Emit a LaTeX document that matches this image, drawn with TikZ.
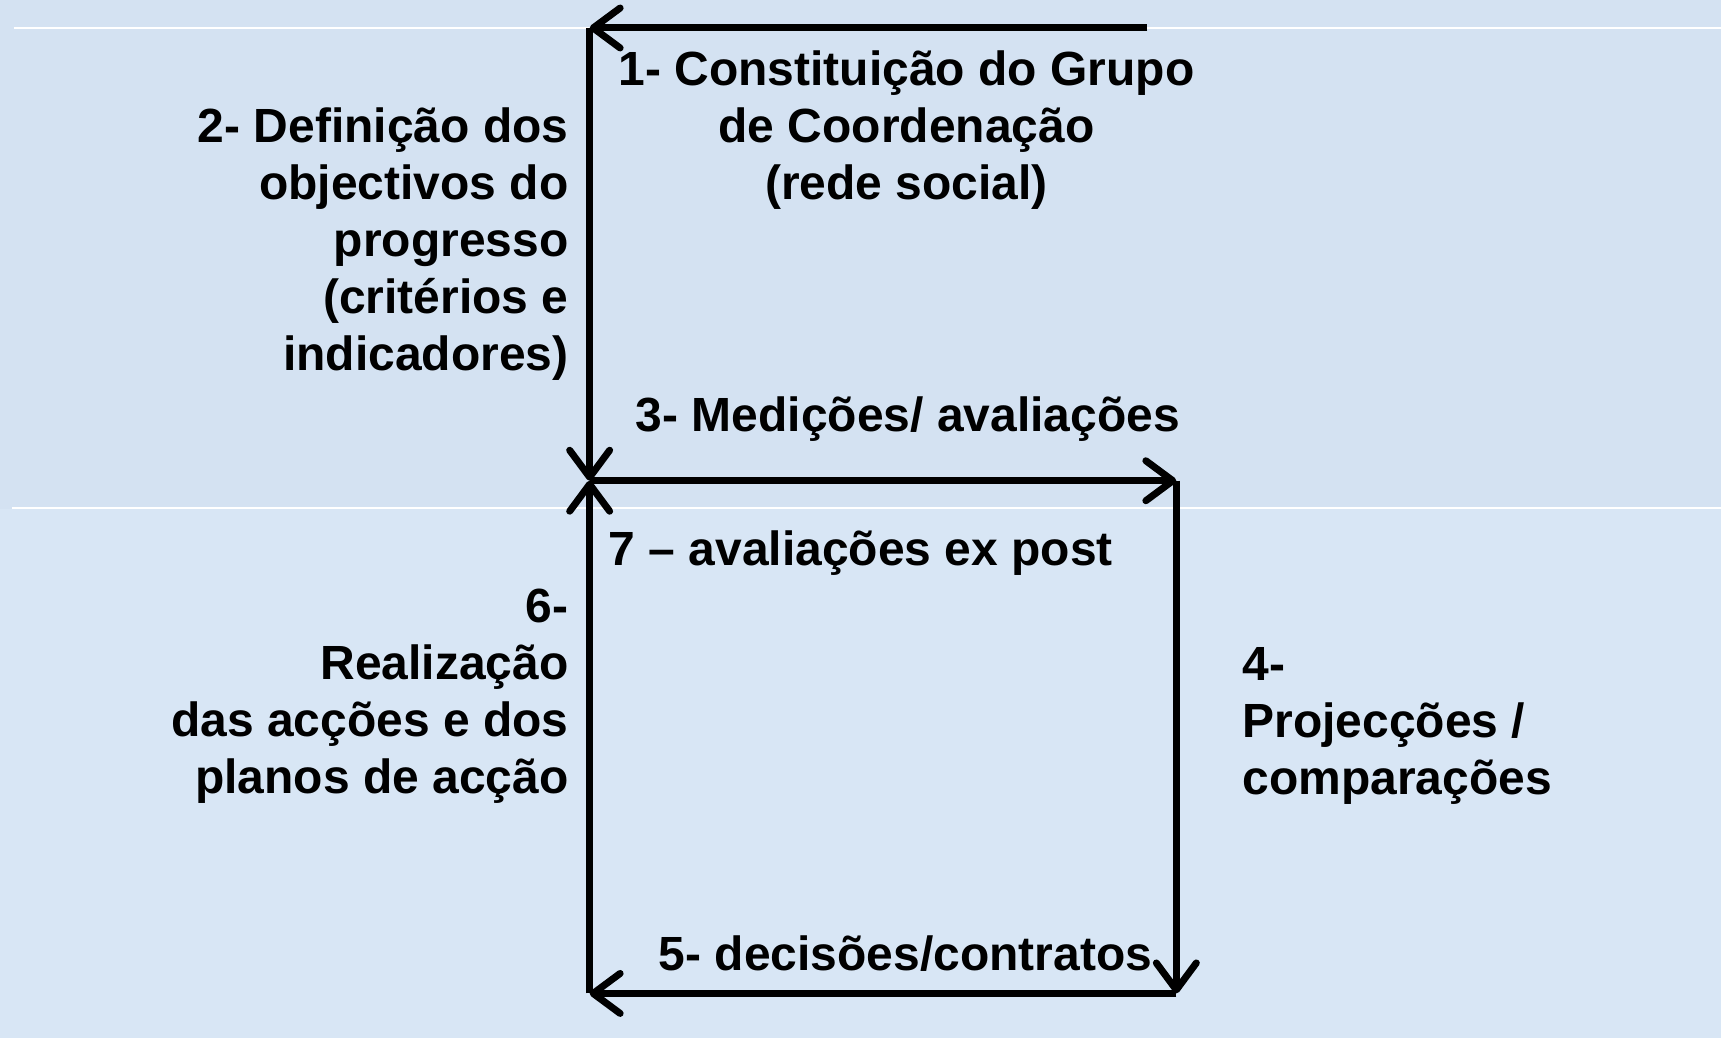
\documentclass[tikz,border=0pt]{standalone}
\usepackage{fontspec}
\setmainfont{Liberation Sans}
\usetikzlibrary{arrows.meta}
\definecolor{bgblue}{RGB}{212,226,242}
\definecolor{bgblue2}{RGB}{216,230,245}
\tikzset{
  lbl/.style={inner sep=0pt, font=\fontsize{48}{57}\selectfont\bfseries},
  flow/.style={line width=7pt, -{Straight Barb[length=27pt,width=40pt,round]}},
  rule/.style={white, line width=2pt}
}
\begin{document}
\begin{tikzpicture}[x=1pt,y=-1pt]
\fill[bgblue] (0,0) rectangle (1722,1039);
\fill[bgblue2] (0,509) rectangle (1722,1039);
\draw[rule] (14,28) -- (1722,28);
\draw[rule] (12,508) -- (1722,508);
% corners
\coordinate (TR) at (1148,28);
\coordinate (TL) at (590,28);
\coordinate (ML) at (590,481);
\coordinate (MR) at (1177,481);
\coordinate (BR) at (1177,994);
\coordinate (BL) at (590,994);
% connectors
\draw[flow] (TR) -- (TL);
\draw[flow] (TL) -- (ML);
\draw[flow] (ML) -- (MR);
\draw[flow] (MR) -- (BR);
\draw[flow] (BR) -- (BL);
\draw[flow] (BL) -- (ML);
% labels
\node[lbl, align=center] (n1) at (907,130) {1- Constituição do Grupo\\de Coordenação\\(rede social)};
\node[lbl, align=right, anchor=east] (n2) at (569,244) {2- Definição dos\\objectivos do\\progresso\\(critérios e\\indicadores)};
\node[lbl, anchor=west] (n3) at (636,419) {3- Medições/ avaliações};
\node[lbl, align=left, anchor=west] (n4) at (1243,726) {4-\\Projecções /\\comparações};
\node[lbl] (n5) at (906,954) {5- decisões/contratos};
\node[lbl, align=right, anchor=east] (n6) at (569,697) {6-\\Realização\\das acções e dos\\planos de acção};
\node[lbl, anchor=west] (n7) at (609,553) {7 – avaliações ex post};
\end{tikzpicture}
\end{document}
